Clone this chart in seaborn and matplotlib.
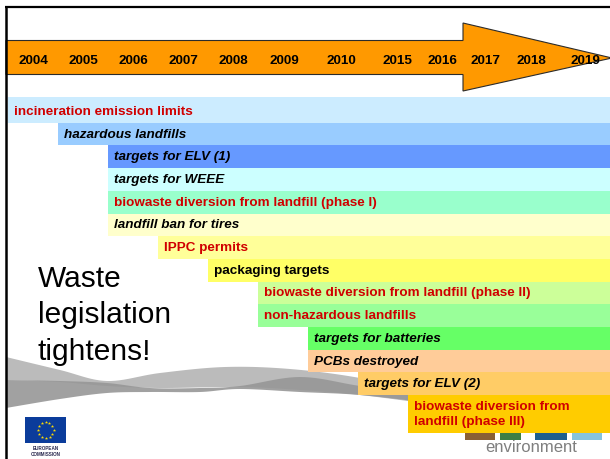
import numpy as np
import pandas as pd
import matplotlib
matplotlib.use("Agg")
import matplotlib.pyplot as plt
from matplotlib.patches import Polygon, Rectangle
import seaborn as sns

# ---------------- data ----------------
years = ["2004", "2005", "2006", "2007", "2008", "2009", "2010",
         "2015", "2016", "2017", "2018", "2019"]
measures = [
    "incineration emission limits",
    "hazardous landfills",
    "targets for ELV (1)",
    "targets for WEEE",
    "biowaste diversion from landfill (phase I)",
    "landfill ban for tires",
    "IPPC permits",
    "packaging targets",
    "biowaste diversion from landfill (phase II)",
    "non-hazardous landfills",
    "targets for batteries",
    "PCBs destroyed",
    "targets for ELV (2)",
    "biowaste diversion from\nlandfill (phase III)",
]
start_year = ["2004", "2005", "2006", "2006", "2006", "2006", "2007",
              "2008", "2009", "2009", "2010", "2010", "2015", "2016"]
bar_colors = ["#CCECFF", "#99CCFF", "#6699FF", "#CCFFFF", "#99FFCC", "#FFFFCC",
              "#FFFF99", "#FFFF66", "#CCFF99", "#99FF99", "#66FF66", "#FFCC99",
              "#FFCC66", "#FFCC00"]
text_colors = ["red", "black", "black", "black", "red", "black", "red",
               "black", "red", "red", "black", "black", "black", "red"]
italic = [False, True, True, True, False, True, False,
          False, False, False, True, True, True, False]

# ---------------- layout ----------------
W, H = 610, 459
X0, SLOT = 8.0, 50.0          # pixel of first slot, pixel width of a slot
ROW1_TOP, ROW = 122.7, 22.7   # pixel top of row 1, pixel height of a row
year_pos = [0.5, 1.5, 2.5, 3.5, 4.5, 5.52, 6.66, 7.79, 8.68, 9.55, 10.46, 11.54]
RED = "#D00000"


def xd(px):
    return (px - X0) / SLOT


def yd(py):
    return (py - ROW1_TOP) / ROW + 0.5


def smooth(pts, n=12):
    """Catmull-Rom spline through a list of (x, y) points."""
    p = np.asarray(pts, dtype=float)
    p = np.vstack([p[0], p, p[-1]])
    out = []
    for i in range(1, len(p) - 2):
        p0, p1, p2, p3 = p[i - 1], p[i], p[i + 1], p[i + 2]
        for t in np.linspace(0, 1, n, endpoint=False):
            t2, t3 = t * t, t * t * t
            out.append(0.5 * ((2 * p1) + (-p0 + p2) * t +
                              (2 * p0 - 5 * p1 + 4 * p2 - p3) * t2 +
                              (-p0 + 3 * p1 - 3 * p2 + p3) * t3))
    out.append(p[-2])
    return np.array(out)


sns.set_theme(style="white")
plt.rcParams["font.family"] = ["Liberation Sans", "DejaVu Sans"]

fig = plt.figure(figsize=(W / 100, H / 100), dpi=100)
fig.patch.set_facecolor("white")

# ---------- decoration layer (pixel coordinates) ----------
dax = fig.add_axes([0, 0, 1, 1])
dax.set_xlim(0, W)
dax.set_ylim(H, 0)
dax.axis("off")

# wave ribbons
light_top = [(6, 357), (60, 370), (107, 381), (160, 373), (225, 367), (290, 369), (360, 378), (430, 394)]
light_bot = [(430, 404), (360, 395), (300, 390), (240, 387), (160, 388), (107, 386), (60, 382), (6, 380)]
dark_top = [(6, 380), (60, 381), (107, 383), (150, 388), (200, 388), (240, 386), (300, 377), (360, 386), (430, 396)]
dark_bot = [(430, 403), (360, 395), (300, 392), (240, 389), (200, 392), (150, 392), (107, 393), (60, 399), (6, 408)]
dax.add_patch(Polygon(np.vstack([smooth(light_top), smooth(light_bot)]), closed=True,
                      fc="#BBBBBB", ec="none", zorder=1))
dax.add_patch(Polygon(np.vstack([smooth(dark_top), smooth(dark_bot)]), closed=True,
                      fc="#979797", ec="none", alpha=0.9, zorder=1.1))

# slide border
dax.plot([5.8, 5.8], [6.5, H], color="black", lw=1.8, solid_capstyle="butt", zorder=5)
dax.plot([5, W], [7, 7], color="black", lw=1.6, solid_capstyle="butt", zorder=5)

# timeline arrow
arrow = [(6, 40.5), (463, 40.5), (463, 23), (612, 58), (463, 91), (463, 74.5), (6, 74.5)]
dax.add_patch(Polygon(arrow, closed=True, fc="#FF9900", ec="#2b2b2b", lw=0.8, zorder=2))

# title text
for txt, yb in zip(["Waste", "legislation", "tightens!"], [287, 323, 360]):
    dax.text(37.5, yb, txt, fontsize=21.5, color="black", va="baseline", ha="left", zorder=3)

# EU logo
dax.add_patch(Rectangle((25, 417), 41, 26, fc="#0B3C9B", ec="none", zorder=3))
ang = np.linspace(0, 2 * np.pi, 13)[:-1]
dax.scatter(45.5 + 8 * np.cos(ang), 430 + 8 * np.sin(ang), marker="*", s=6,
            color="#FFDD00", linewidths=0, zorder=4)
dax.text(45.5, 448, "EUROPEAN", fontsize=3.3, fontweight="bold", color="#2a2a50",
         ha="center", va="center", zorder=4)
dax.text(45.5, 454, "COMMISSION", fontsize=3.3, fontweight="bold", color="#2a2a50",
         ha="center", va="center", zorder=4)

# environment logo
for x0, x1, c in [(465, 495, "#8A6035"), (500, 521, "#3E7F45"), (535, 567, "#1F5E8E"), (572, 602, "#86C3DD")]:
    dax.add_patch(Rectangle((x0, 430), x1 - x0, 10, fc=c, ec="none", zorder=2))
dax.text(531, 448, "environment", fontsize=12, color="#7F7F7F", ha="center", va="center", zorder=3)

# ---------- bars (data layer) ----------
ax = fig.add_axes([0, 0, 1, 1])
ax.set_facecolor("none")

slots = [years.index(s) for s in start_year]
x_end = xd(W) + 0.5
df = pd.DataFrame({"measure": measures,
                   "start": slots,
                   "span": [x_end - s for s in slots]})

sns.barplot(data=df, x="span", y="measure", orient="y", left=df["start"].values,
            width=1.0, color=bar_colors[0], saturation=1, errorbar=None, ax=ax,
            linewidth=0)

bars = ax.containers[0]
for patch, c in zip(bars, bar_colors):
    patch.set_facecolor(c)
    patch.set_edgecolor("none")
# first row slightly taller at top, last row double-height
bars[0].set_y(yd(96.7))
bars[0].set_height(0.5 - yd(96.7))
bars[-1].set_height(yd(433) - (len(measures) - 1 - 0.5))

for i, (lab, s, tc, it) in enumerate(zip(measures, slots, text_colors, italic)):
    yc = i
    if i == len(measures) - 1:
        yc = (len(measures) - 1 - 0.5 + yd(433)) / 2
    ax.text(s + 0.12, yc + 0.02, lab, fontsize=9.7, fontweight="bold",
            fontstyle="italic" if it else "normal",
            color=RED if tc == "red" else "black", ha="left", va="center",
            linespacing=1.4)

ax.set_xlim(xd(0), xd(W))
ax.set_ylim(yd(H), yd(0))
ax.set_xlabel("")
ax.set_ylabel("")
ax.set_yticks([])
ax.xaxis.set_ticks_position("top")
ax.set_xticks(year_pos)
ax.set_xticklabels(years, fontsize=9.7, fontweight="bold", color="black")
ax.tick_params(axis="x", length=0, pad=-48.5, labeltop=True, labelbottom=False)
for sp in ax.spines.values():
    sp.set_visible(False)

fig.savefig("out.png", dpi=100)
